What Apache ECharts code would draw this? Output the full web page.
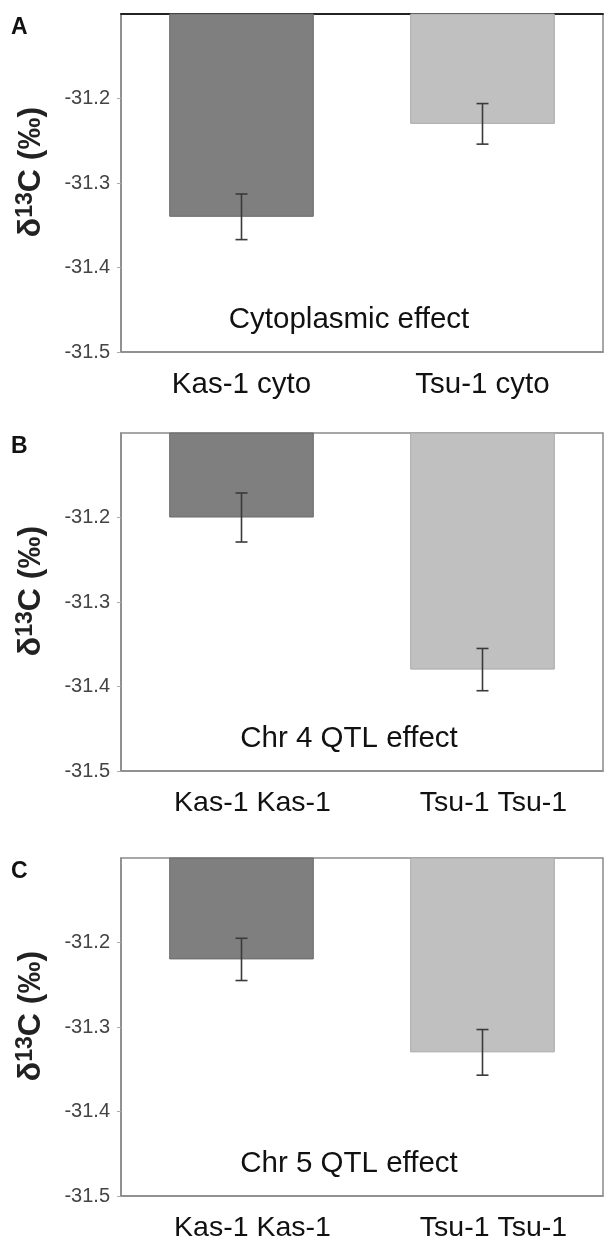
<!DOCTYPE html>
<html>
<head>
<meta charset="utf-8">
<script src="https://cdn.jsdelivr.net/npm/echarts@6/dist/echarts.min.js"></script>
<style>
html,body{margin:0;padding:0;background:#fff;}
#chart{width:605px;height:1243px;}
</style>
</head>
<body>
<div id="chart"></div>
<script>
// ---- data ----
const panelLetters = ['A', 'B', 'C'];
const effectLabels = ['Cytoplasmic effect', 'Chr 4 QTL effect', 'Chr 5 QTL effect'];
const categoriesA = ['Kas-1 cyto', 'Tsu-1 cyto'];
const categoriesB = ['Kas-1 Kas-1', 'Tsu-1 Tsu-1'];
const categoriesC = ['Kas-1 Kas-1', 'Tsu-1 Tsu-1'];
const meansA = [-31.34, -31.23];
const errsA = [0.027, 0.024];
const meansB = [-31.20, -31.38];
const errsB = [0.029, 0.025];
const meansC = [-31.22, -31.33];
const errsC = [0.025, 0.027];
const yMin = -31.5, yMax = -31.1, yStep = 0.1;
const effectLabelValue = -31.462;

const panels = [
  {cats: categoriesA, means: meansA, errs: errsA},
  {cats: categoriesB, means: meansB, errs: errsB},
  {cats: categoriesC, means: meansC, errs: errsC}
];

// ---- layout/style ----
const gridTops = [14, 433, 858];
const gridH = 338;
const labelPadLeft = [0, 22, 22];
const labelSize = [29.5, 28.5, 28.5];
const barColors = ['#7f7f7f', '#c0c0c0'];
const barBorders = ['#6a6a6a', '#a8a8a8'];
const frameColor = '#8a8a8a';
const FONT = 'Liberation Sans, Arial, sans-serif';

const chart = echarts.init(document.getElementById('chart'), null, {renderer: 'canvas'});

const grids = [], xAxes = [], yAxes = [], series = [], graphics = [];
panels.forEach((p, i) => {
  grids.push({left: 121, right: 2, top: gridTops[i], height: gridH, show: true,
    borderColor: frameColor, borderWidth: 1.5, backgroundColor: 'transparent'});
  xAxes.push({type: 'category', gridIndex: i, data: p.cats,
    axisLine: {onZero: false, lineStyle: {color: frameColor, width: 1.5}},
    axisTick: {alignWithLabel: true, length: 5, lineStyle: {color: '#999'}},
    axisLabel: {color: '#111', fontSize: labelSize[i], fontFamily: FONT, margin: 18,
      padding: [0, 0, 0, labelPadLeft[i]]}
  });
  yAxes.push({type: 'value', gridIndex: i, min: yMin, max: yMax, interval: yStep,
    name: '{d|δ}{s|13}{d|C (‰)}', nameLocation: 'middle', nameGap: 73,
    nameTextStyle: {padding: [0, 0, 0, 22], rich: {
      d: {fontSize: 32, fontWeight: 'bold', color: '#222', fontFamily: FONT, lineHeight: 34},
      s: {fontSize: 23, fontWeight: 'bold', color: '#222', fontFamily: FONT, lineHeight: 23, verticalAlign: 'top'}
    }},
    splitLine: {show: false},
    axisLine: {show: true, onZero: false, lineStyle: {color: frameColor, width: 1.5}},
    axisTick: {show: true, length: 4, lineStyle: {color: '#aaa'}},
    axisLabel: {color: '#444', fontSize: 20, fontFamily: FONT, margin: 11,
      showMaxLabel: false, formatter: v => v.toFixed(1)}
  });
  series.push({type: 'bar', xAxisIndex: i, yAxisIndex: i, barWidth: '60%', clip: true,
    data: p.means.map((m, k) => ({value: m, itemStyle: {color: barColors[k], borderColor: barBorders[k], borderWidth: 1}})),
    z: 2
  });
  series.push({type: 'custom', xAxisIndex: i, yAxisIndex: i, z: 3,
    data: p.means.map((m, k) => [k, m, p.errs[k]]),
    renderItem: function (params, api) {
      const x = api.value(0), m = api.value(1), e = api.value(2);
      const top = api.coord([x, m + e]);
      const bot = api.coord([x, m - e]);
      const hw = 6;
      const st = {stroke: '#3a3a3a', lineWidth: 1.6};
      return {type: 'group', children: [
        {type: 'line', shape: {x1: top[0], y1: top[1], x2: bot[0], y2: bot[1]}, style: st},
        {type: 'line', shape: {x1: top[0] - hw, y1: top[1], x2: top[0] + hw, y2: top[1]}, style: st},
        {type: 'line', shape: {x1: bot[0] - hw, y1: bot[1], x2: bot[0] + hw, y2: bot[1]}, style: st}
      ]};
    }
  });
  series.push({type: 'scatter', xAxisIndex: i, yAxisIndex: i, symbolSize: 0, silent: true, z: 4,
    itemStyle: {opacity: 1},
    data: [[0.5, effectLabelValue]],
    label: {show: true, position: 'inside', formatter: effectLabels[i], color: '#111', fontSize: 29.5,
      fontFamily: FONT, offset: [-13, 0], opacity: 1}
  });
  graphics.push({type: 'text', left: 11, top: gridTops[i] + 2,
    style: {text: panelLetters[i], fontSize: 23, fontWeight: 'bold', fill: '#111', fontFamily: FONT}});
});

// hidden value x-axes so the effect labels sit midway between the categories
const baseCount = xAxes.length;
panels.forEach((p, i) => {
  xAxes.push({type: 'value', gridIndex: i, min: -0.5, max: 1.5, show: false});
});
series.forEach(s => { if (s.type === 'scatter') s.xAxisIndex = baseCount + s.xAxisIndex; });

// dark top border for panel A
xAxes.push({type: 'category', gridIndex: 0, position: 'top', data: categoriesA,
  axisLine: {onZero: false, lineStyle: {color: '#222', width: 1.8}}, axisTick: {show: false}, axisLabel: {show: false}});

chart.setOption({
  animation: false,
  backgroundColor: '#fff',
  grid: grids,
  xAxis: xAxes,
  yAxis: yAxes,
  series: series,
  graphic: graphics
});
</script>
</body>
</html>
